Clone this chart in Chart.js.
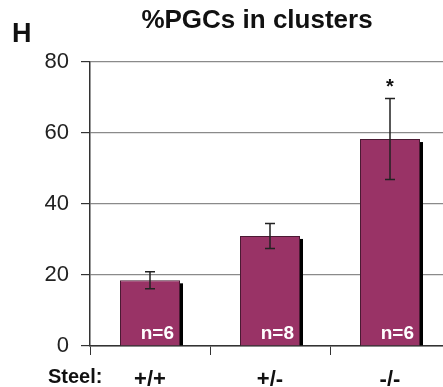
<!DOCTYPE html>
<html>
<head>
<meta charset="utf-8">
<script src="https://cdn.jsdelivr.net/npm/chart.js@4/dist/chart.umd.min.js"></script>
<style>
  html, body { margin: 0; padding: 0; background: #fff; overflow: hidden; }
  #wrap { width: 443px; height: 387px; overflow: hidden; }
  canvas { display: block; }
</style>
</head>
<body>
<div id="wrap"><canvas id="chart" width="452" height="387"></canvas></div>
<script>
// Percentage of PGCs found in clusters, by Steel genotype
const genotypes = ['+/+', '+/-', '-/-'];
const pctInClusters = [18.5, 31.0, 58.3];
const semValues = [2.4, 3.5, 11.4];
const sampleSizes = [6, 8, 6];
const significance = ['', '', '*'];
const yTickValues = [0, 20, 40, 60, 80];

const BAR_COLOR = '#993366';
const INK = '#111';

// Drop shadow on the right side of each bar
const barShadow = {
  id: 'barShadow',
  beforeDatasetsDraw(chart) {
    const ctx = chart.ctx;
    const meta = chart.getDatasetMeta(0);
    ctx.save();
    ctx.fillStyle = '#000';
    meta.data.forEach(bar => {
      const right = bar.x + bar.width / 2;
      ctx.fillRect(right, bar.y + 3, 3, bar.base - bar.y - 3);
    });
    ctx.restore();
  }
};

// Error bars, sample-size labels, significance marks and figure text
const annotations = {
  id: 'annotations',
  afterDatasetsDraw(chart) {
    const ctx = chart.ctx;
    const y = chart.scales.y;
    const meta = chart.getDatasetMeta(0);
    ctx.save();
    meta.data.forEach((bar, i) => {
      const v = pctInClusters[i], e = semValues[i];
      const top = y.getPixelForValue(v + e);
      const bot = y.getPixelForValue(v - e);
      ctx.strokeStyle = '#222';
      ctx.lineWidth = 1.5;
      ctx.beginPath();
      ctx.moveTo(bar.x, top); ctx.lineTo(bar.x, bot);
      ctx.moveTo(bar.x - 5, top); ctx.lineTo(bar.x + 5, top);
      ctx.moveTo(bar.x - 5, bot); ctx.lineTo(bar.x + 5, bot);
      ctx.stroke();

      ctx.fillStyle = '#fff';
      ctx.font = 'bold 19px "Liberation Sans", Arial, sans-serif';
      ctx.textAlign = 'right';
      ctx.textBaseline = 'alphabetic';
      ctx.fillText('n=' + sampleSizes[i], bar.x + bar.width / 2 - 6, bar.base - 6);

      if (significance[i]) {
        ctx.fillStyle = INK;
        ctx.font = 'bold 20px "Liberation Sans", Arial, sans-serif';
        ctx.textAlign = 'center';
        ctx.fillText(significance[i], bar.x, top - 6);
      }
    });

    ctx.fillStyle = INK;
    ctx.textAlign = 'left';
    ctx.font = 'bold 27px "Liberation Sans", Arial, sans-serif';
    ctx.fillText('H', 12, 42);
    ctx.textAlign = 'center';
    ctx.font = 'bold 26px "Liberation Sans", Arial, sans-serif';
    ctx.fillText('%PGCs in clusters', 257, 28);
    ctx.textAlign = 'left';
    ctx.font = 'bold 20px "Liberation Sans", Arial, sans-serif';
    ctx.fillText('Steel:', 48, 383);
    ctx.restore();
  }
};

new Chart(document.getElementById('chart'), {
  type: 'bar',
  data: {
    labels: genotypes,
    datasets: [{
      data: pctInClusters,
      backgroundColor: BAR_COLOR,
      borderColor: '#4a1a33',
      borderWidth: 1,
      barPercentage: 0.5,
      categoryPercentage: 1.0
    }]
  },
  options: {
    responsive: false,
    animation: false,
    layout: { padding: { top: 62, right: 2, left: 0, bottom: 0 } },
    plugins: { legend: { display: false }, title: { display: false }, tooltip: { enabled: false } },
    scales: {
      x: {
        afterFit(s) { s.height = 41; },
        grid: { drawOnChartArea: false, drawTicks: true, tickLength: 9, tickColor: '#333', offset: true },
        border: { color: '#333', width: 1.5 },
        ticks: {
          color: INK,
          font: { family: '"Liberation Sans", Arial, sans-serif', size: 22, weight: 'bold' },
          padding: 12
        }
      },
      y: {
        min: 0, max: 80,
        afterFit(s) { s.width = 90; },
        afterBuildTicks(s) { s.ticks = yTickValues.map(v => ({ value: v })); },
        grid: { color: '#8a8a8a', lineWidth: 1.2, tickColor: '#333', tickLength: 9 },
        border: { color: '#333', width: 1.5 },
        ticks: {
          color: '#222',
          font: { family: '"Liberation Sans", Arial, sans-serif', size: 22 },
          padding: 12
        }
      }
    }
  },
  plugins: [barShadow, annotations]
});
</script>
</body>
</html>
